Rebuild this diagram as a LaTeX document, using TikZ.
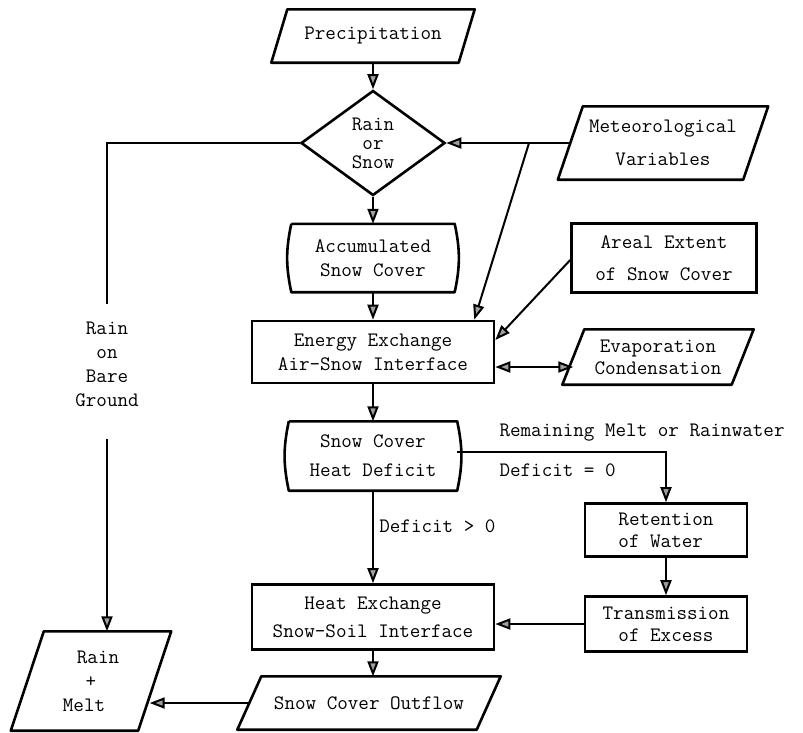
\documentclass[tikz,border=0pt]{standalone}
\usepackage{tikz}
\usetikzlibrary{shapes,arrows.meta,positioning}
\tikzstyle{plainbox}=[rectangle, draw, line width=2.6pt, align=center, inner sep=0pt]
\tikzstyle{bowbox}=[rectangle, align=center, inner sep=0pt]
\tikzstyle{slantbox}=[rectangle, align=center, inner sep=0pt]
\tikzstyle{choice}=[diamond, draw, line width=2.6pt, align=center, inner sep=0pt, minimum width=144pt, minimum height=105pt]
\tikzstyle{frame}=[line width=2.6pt, line join=round]
\tikzstyle{wire}=[line width=2pt]
\tikzstyle{flow}=[wire, ->]
\tikzset{>={Triangle[length=15pt,width=11pt,fill=gray!75]}}
\newcommand{\slantframe}[2]{
  \draw[frame] ([xshift=#2pt]#1.north west) -- ([xshift=#2pt]#1.north east)
    -- ([xshift=-#2pt]#1.south east) -- ([xshift=-#2pt]#1.south west) -- cycle;}
\newcommand{\bowframe}[1]{
  \draw[frame] (#1.north west) -- (#1.north east) to[bend left=12] (#1.south east)
    -- (#1.south west) to[bend left=12] (#1.north west);}
\begin{document}
\begin{tikzpicture}[x=1pt, y=-1pt, every node/.style = {font=\fontsize{20.5}{24}\selectfont\ttfamily}]
\useasboundingbox (0,0) rectangle (803,732);

\node[slantbox, minimum width=187pt, minimum height=53pt] (precip) at (373,36) {Precipitation};
\slantframe{precip}{8}
\node[choice] (rainsnow) at (373,143) {Rain\\[-5pt]or\\[-5pt]Snow};
\node[slantbox, minimum width=185pt, minimum height=73pt] (meteo) at (663,143) {Meteorological\\[9pt]Variables};
\slantframe{meteo}{12.5}
\node[bowbox, minimum width=163pt, minimum height=68pt] (accum) at (373,258) {Accumulated\\Snow Cover};
\bowframe{accum}
\node[plainbox, minimum width=185pt, minimum height=69pt] (areal) at (664,258) {Areal Extent\\[8pt]of Snow Cover};
\node[plainbox, minimum width=242pt, minimum height=62pt] (energy) at (373,352) {Energy Exchange\\Air-Snow Interface};
\node[slantbox, minimum width=169pt, minimum height=55pt] (evap) at (658,357) {Evaporation\\[-2pt]Condensation};
\slantframe{evap}{11}
\node[bowbox, minimum width=168pt, minimum height=69pt] (deficit) at (373,456) {Snow Cover\\[5pt]Heat Deficit};
\bowframe{deficit}
\node[plainbox, align=left, minimum width=162pt, minimum height=53pt] (retain) at (666,530) {Retention\\[-2pt]of Water};
\node[plainbox, minimum width=162pt, minimum height=55pt] (transm) at (666,624) {Transmission\\[-2pt]of Excess};
\node[plainbox, minimum width=242pt, minimum height=65pt] (heatx) at (373,617) {Heat Exchange\\[4pt]Snow-Soil Interface};
\node[slantbox, minimum width=239pt, minimum height=53pt] (outflow) at (369,703) {Snow Cover Outflow};
\slantframe{outflow}{12}
\node[slantbox, minimum width=127pt, minimum height=99pt] (melt) at (91,681) {\hspace*{14pt}Rain\\+\\Melt\hspace*{14pt}};
\slantframe{melt}{16.5}
\node[align=center, inner ysep=17pt] (bare) at (107,364) {Rain\\on\\Bare\\Ground};
\node[anchor=west] (remain) at (496,433) {Remaining Melt or Rainwater};
\node[anchor=west] (zero) at (496,470) {Deficit = 0};
\coordinate (split) at (529,143);

\draw[flow] (precip.south) -- (rainsnow.north);
\draw[flow] (rainsnow.south) -- (accum.north);
\draw[flow] (meteo.west) -- (rainsnow.east);
\draw[flow] (split) -- ([xshift=-21pt]energy.north east);
\draw[flow] (accum.south) -- (energy.north);
\draw[flow] ([yshift=-2pt]areal.west) -- ([yshift=12pt]energy.east);
\draw[wire,<->] ([yshift=-15pt]energy.east) -- ([yshift=-15pt]energy.east -| evap.west);
\draw[flow] (energy.south) -- (deficit.north);
\draw[flow] ([yshift=4pt]deficit.east) -| (retain.north);
\draw[flow] (deficit.south) -- node[pos=0.38, right=2pt] {Deficit > 0} (heatx.north);
\draw[flow] (retain.south) -- (transm.north);
\draw[flow] (transm.west) -- (transm.west -| heatx.east);
\draw[flow] (heatx.south) -- (heatx.south |- outflow.north);
\draw[flow] (outflow.west) -- ([xshift=-5pt]outflow.west -| melt.east);
\draw[wire] (rainsnow.west) -| (bare.north);
\draw[flow] ([yshift=-15pt]bare.south) -- (bare.south |- melt.north);

\end{tikzpicture}
\end{document}
